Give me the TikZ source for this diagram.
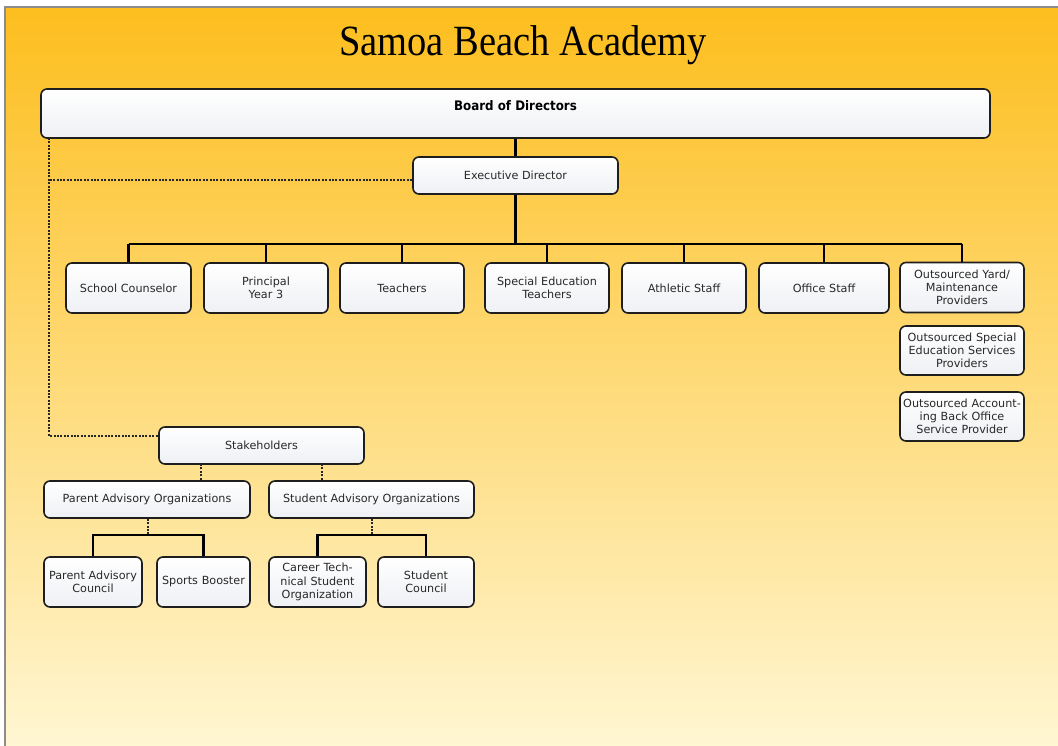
\documentclass[tikz,border=0pt]{standalone}
\usepackage{fontspec}
\setmainfont{DejaVu Sans}
\newfontfamily\titlefont{Liberation Serif}
\definecolor{bgtop}{RGB}{253,190,30}
\definecolor{bgmid}{RGB}{254,218,120}
\definecolor{bgbot}{RGB}{255,246,210}
\definecolor{framegray}{RGB}{140,140,140}
\definecolor{boxline}{RGB}{30,30,30}
\definecolor{boxbot}{RGB}{238,240,244}
\definecolor{txt}{RGB}{40,40,40}
\tikzset{
  box/.style={draw=boxline, line width=1.6pt, rounded corners=6pt,
    top color=white, bottom color=boxbot, align=center, inner sep=1pt,
    font=\fontsize{11.2}{13.2}\selectfont, text=txt},
  solidline/.style={draw=black, line width=2.1pt},
  dotline/.style={draw=black!85, line width=2.3pt, dash pattern=on 2pt off 1.4pt},
}
\begin{document}
\begin{tikzpicture}[x=1pt,y=-1pt]
\useasboundingbox (0,0) rectangle (1058,746);
\fill[white] (0,0) rectangle (1058,746);
\shade[top color=bgtop, middle color=bgmid, bottom color=bgbot] (5,7) rectangle (1058,746);
\draw[framegray, line width=1.2pt] (5,746) -- (5,7) -- (1058,7);

\node[font=\titlefont\fontsize{38.5}{40}\selectfont, text=black] (title) at (523,45) {\scalebox{1}[1.12]{Samoa Beach Academy}};

% board
\node[box, minimum width=949pt, minimum height=49pt] (board) at (515.5,113.5) {};
\node[font=\bfseries\fontsize{12.5}{14}\selectfont, text=black] (boardtext) at (515.5,106) {\scalebox{0.95}[1.05]{Board of Directors}};

\node[box, minimum width=205pt, minimum height=37pt] (exec) at (515.5,175.5) {Executive Director};

% first row
\tikzset{rowbox/.style={box, minimum height=50pt, text width=#1pt-4pt, minimum width=#1pt}}
\node[rowbox=125] (sc) at (128.5,288) {School Counselor};
\node[rowbox=124] (pr) at (266,288) {Principal\\Year 3};
\node[rowbox=124] (te) at (402,288) {Teachers};
\node[rowbox=124] (se) at (547,288) {Special Education\\Teachers};
\node[rowbox=124] (at) at (684,288) {Athletic Staff};
\node[rowbox=130] (of) at (824,288) {Office Staff};
\node[rowbox=124] (oy) at (962,287.5) {Outsourced Yard/\\Maintenance\\Providers};
\node[rowbox=124, minimum height=49pt] (os) at (962,350.5) {Outsourced Special\\Education Services\\Providers};
\node[rowbox=124, minimum height=49pt] (oa) at (962,416.5) {Outsourced Account-\\ing Back Office\\Service Provider};

% stakeholders
\node[box, minimum width=205pt, minimum height=37pt] (stake) at (261.5,445.5) {Stakeholders};
\node[box, minimum width=206pt, minimum height=37pt] (pao) at (147,499.5) {Parent Advisory Organizations};
\node[box, minimum width=205pt, minimum height=37pt] (sao) at (371.5,499.5) {Student Advisory Organizations};
\node[rowbox=98] (pac) at (93,582) {Parent Advisory\\Council};
\node[rowbox=93] (sb) at (203.5,582) {Sports Booster};
\node[rowbox=97] (ctso) at (317.5,582) {Career Tech-\\nical Student\\Organization};
\node[rowbox=96] (stc) at (426,582) {Student\\Council};

% solid connectors
\coordinate (busc) at (515.5,244);
\draw[solidline] (board.south) -- (exec.north);
\draw[solidline] (exec.south) -- (busc);
\draw[solidline] (sc.north |- busc) -- (oy.north |- busc);
\foreach \n in {sc,pr,te,se,at,of,oy} \draw[solidline] (\n.north |- busc) -- (\n.north);

% dotted links to stakeholders
\coordinate (dtop) at (49,138);
\coordinate (dmid) at (49,180);
\coordinate (dbot) at (49,436);
\draw[dotline] (dtop) -- (dbot) -- (dbot -| stake.west);
\draw[dotline] (exec.west |- dmid) -- (dmid);

\draw[dotline] (201,464) coordinate (s1) -- (s1 |- pao.north);
\draw[dotline] (322,464) coordinate (s2) -- (s2 |- sao.north);

\coordinate (pbus) at (148,535);
\coordinate (sbus) at (372,535);
\draw[dotline] (pbus |- pao.south) -- (pbus);
\draw[dotline] (sbus |- sao.south) -- (sbus);
\draw[solidline] (pac.north) -- (pac.north |- pbus) -- (sb.north |- pbus) -- (sb.north);
\draw[solidline] (ctso.north) -- (ctso.north |- sbus) -- (stc.north |- sbus) -- (stc.north);
\end{tikzpicture}
\end{document}
